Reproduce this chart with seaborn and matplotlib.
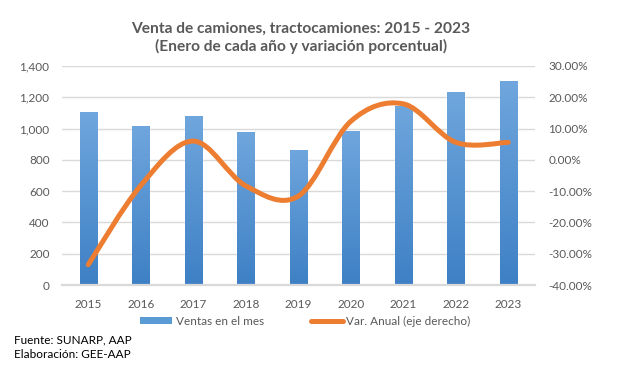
import numpy as np
import pandas as pd
import seaborn as sns
import matplotlib.pyplot as plt
from matplotlib.path import Path
from matplotlib.patches import PathPatch, Patch
from matplotlib.lines import Line2D
from matplotlib.ticker import FuncFormatter, MultipleLocator

# DATA
years = ['2015', '2016', '2017', '2018', '2019', '2020', '2021', '2022', '2023']
ventas = [1105, 1015, 1080, 978, 866, 983, 1147, 1231, 1301]
var_anual = [-33.5, -8.2, 6.0, -8.3, -11.6, 12.3, 17.9, 5.6, 5.6]

TITLE = 'Venta de camiones, tractocamiones: 2015 - 2023\n(Enero de cada año y variación porcentual)'
LEGEND_BARS = 'Ventas en el mes'
LEGEND_LINE = 'Var. Anual (eje derecho)'
SOURCE = 'Fuente: SUNARP, AAP\nElaboración: GEE-AAP'

BLUE_TOP = '#6fa6dd'
BLUE_BOT = '#3e80c5'
ORANGE = '#ed7d31'
GRAY_TXT = '#595959'
GRID = '#d9d9d9'

sns.set_style('white')
plt.rcParams['font.family'] = ['Lato', 'DejaVu Sans']

fig = plt.figure(figsize=(6.17, 3.71), dpi=100)
ax = fig.add_axes([62 / 617, 1 - 285 / 371, (534.5 - 62) / 617, (285 - 66) / 371])

df = pd.DataFrame({'year': years, 'ventas': ventas})
sns.barplot(data=df, x='year', y='ventas', color=BLUE_BOT, width=0.33,
            saturation=1, ax=ax, zorder=2)

# vertical gradient inside each bar
grad = np.linspace(0, 1, 256).reshape(-1, 1)
cmap = plt.matplotlib.colors.LinearSegmentedColormap.from_list('g', [BLUE_BOT, BLUE_TOP])
for bar in ax.patches:
    x0, y0 = bar.get_x(), bar.get_y()
    w, h = bar.get_width(), bar.get_height()
    im = ax.imshow(grad, extent=[x0, x0 + w, y0, y0 + h], origin='lower',
                   aspect='auto', cmap=cmap, zorder=2.1)
    im.set_clip_path(bar)

ax.set_xlim(-0.5, len(years) - 0.5)
ax.set_ylim(0, 1400)
ax.yaxis.set_major_locator(MultipleLocator(200))
ax.yaxis.set_major_formatter(FuncFormatter(lambda v, p: f'{v:,.0f}'))
ax.grid(axis='y', color=GRID, lw=1, zorder=0)
ax.set_axisbelow(True)
ax.set_xlabel('')
ax.set_ylabel('')
for s in ['top', 'left', 'right']:
    ax.spines[s].set_visible(False)
ax.spines['bottom'].set_color(GRID)
ax.spines['bottom'].set_linewidth(1.6)
ax.tick_params(axis='both', length=0, labelsize=8.5, colors=GRAY_TXT)
ax.tick_params(axis='y', pad=9)
ax.tick_params(axis='x', pad=10)

ax2 = ax.twinx()
ax2.set_ylim(-40, 30)
ax2.yaxis.set_major_locator(MultipleLocator(10))
ax2.yaxis.set_major_formatter(FuncFormatter(lambda v, p: f'{v:.2f}%'))
ax2.tick_params(axis='y', length=0, labelsize=8.5, colors=GRAY_TXT, pad=10)
for s in ax2.spines.values():
    s.set_visible(False)
ax2.grid(False)

# smoothed line (bezier through the data points, like Excel's smoothed line)
xs = np.arange(len(var_anual), dtype=float)
ys = np.array(var_anual, dtype=float)
verts = [(xs[0], ys[0])]
codes = [Path.MOVETO]
n = len(xs)
for i in range(n - 1):
    xp, yp = (xs[i - 1], ys[i - 1]) if i > 0 else (xs[i], ys[i])
    xn, yn = (xs[i + 2], ys[i + 2]) if i + 2 < n else (xs[i + 1], ys[i + 1])
    c1 = (xs[i] + (xs[i + 1] - xp) / 6, ys[i] + (ys[i + 1] - yp) / 6)
    c2 = (xs[i + 1] - (xn - xs[i]) / 6, ys[i + 1] - (yn - ys[i]) / 6)
    verts += [c1, c2, (xs[i + 1], ys[i + 1])]
    codes += [Path.CURVE4] * 3
ax2.add_patch(PathPatch(Path(verts, codes), fill=False, edgecolor=ORANGE,
                        lw=3.6, capstyle='round', joinstyle='round', zorder=3))

fig.text(0.488, 1 - 38 / 371, TITLE, ha='center', va='center', fontsize=11.2,
         fontweight='bold', color=GRAY_TXT, linespacing=1.3)

handles = [Patch(facecolor='#5b9bd5', edgecolor='none'),
           Line2D([0], [0], color=ORANGE, lw=3.6, solid_capstyle='round')]
fig.legend(handles, [LEGEND_BARS, LEGEND_LINE], loc='center',
           bbox_to_anchor=(305.5 / 617, 1 - 321 / 371), ncol=2, frameon=False,
           fontsize=8.5, labelcolor=GRAY_TXT, handlelength=2.7, handleheight=0.5,
           handletextpad=0.3, columnspacing=4.0)

fig.text(14 / 617, 1 - 347 / 371, SOURCE, ha='left', va='center', fontsize=8.5,
         color='black', linespacing=1.45)

fig.savefig('out.png', dpi=100)
